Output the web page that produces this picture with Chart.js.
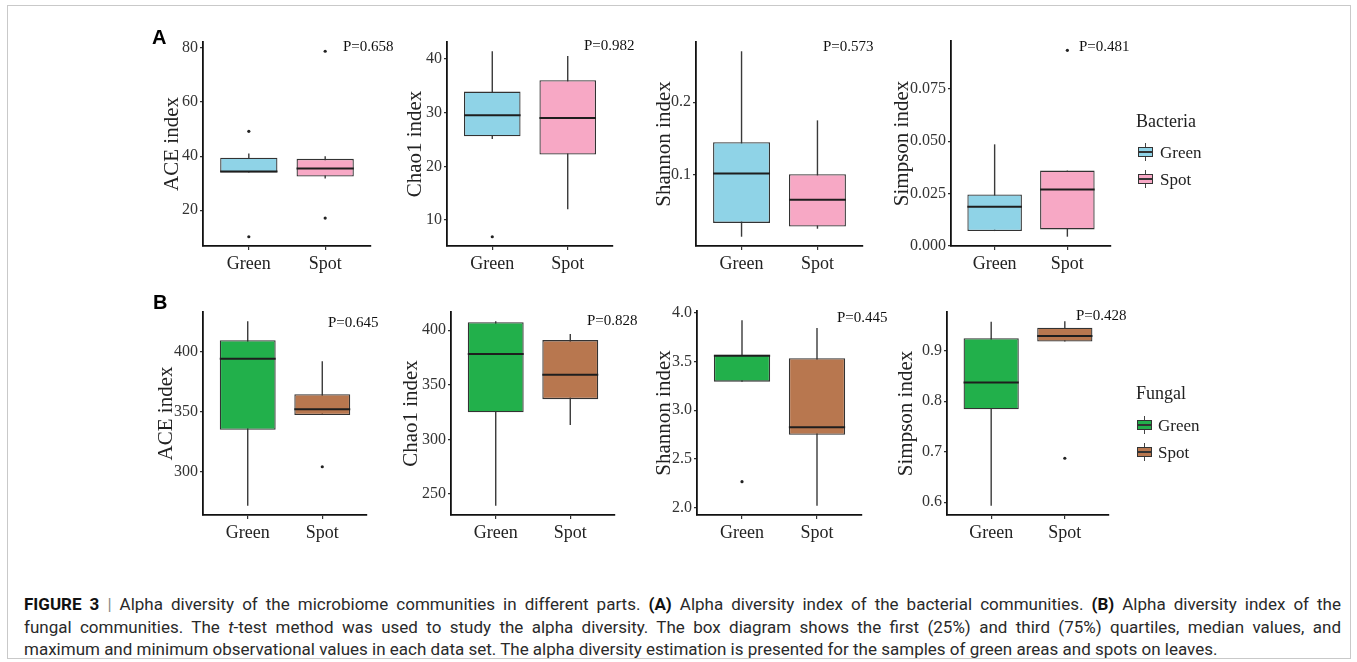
<!DOCTYPE html>
<html>
<head>
<meta charset="utf-8">
<script src="https://cdn.jsdelivr.net/npm/chart.js@4.4.1/dist/chart.umd.min.js"></script>
<style>
  html, body { margin: 0; padding: 0; background: #fff; }
  #figure { position: relative; width: 1357px; height: 662px; overflow: hidden; font-family: "Liberation Serif", "Times New Roman", serif; color: #222; }
  .frame { position: absolute; left: 7px; top: 5px; width: 1344px; height: 654px; border: 1px solid #c9c9c9; box-sizing: border-box; }
  .panel { position: absolute; }
  .letter { position: absolute; font-family: "Liberation Sans", Arial, sans-serif; font-weight: bold; font-size: 20px; line-height: 1; transform: translateY(-50%); color: #000; }
  .pval { position: absolute; font-size: 15px; line-height: 1; white-space: nowrap; transform: translateY(-50%); color: #111; }
  .leg-title { position: absolute; font-size: 18px; line-height: 1; transform: translateY(-50%); color: #222; }
  .leg-label { position: absolute; font-size: 17px; line-height: 1; transform: translateY(-50%); color: #222; }
  .key { position: absolute; width: 15px; height: 18px; transform: translateY(-50%); }
  .key .wh { position: absolute; left: 7px; top: 0; width: 1px; height: 18px; background: #444; }
  .key .bx { position: absolute; left: 0; top: 4px; width: 15px; height: 10px; border: 1px solid #333; box-sizing: border-box; }
  .key .md { position: absolute; left: 0; top: 8px; width: 15px; height: 1.5px; background: #333; }
  .caption { position: absolute; left: 24px; width: 1317px; font-family: Roboto, "Liberation Sans", sans-serif; font-size: 17px; line-height: 1; color: #2a2a2a; text-align: justify; text-align-last: justify; transform: translateY(-50%); }
  .caption.last { text-align-last: left; }
  .caption b { font-weight: bold; color: #111; }
  .caption .bar { color: #888; }
</style>
</head>
<body>
<div id="figure">
  <div class="frame"></div>
</div>
<script>
const groups = ["Green", "Spot"];

// each group: [min, q1, median, q3, max]; Green first, Spot second
const bacAce = [[34.0, 34.0, 34.3, 39.4, 41.0], [31.7, 32.5, 35.4, 39.0, 40.0]];
const bacAceOut = [[49.2, 10.2], [78.8, 17.1]];
const bacAceTicks = ["20", "40", "60", "80"];

const bacChao = [[25.1, 25.6, 29.5, 33.9, 41.4], [12.0, 22.2, 29.0, 36.0, 40.5]];
const bacChaoOut = [[6.9], []];
const bacChaoTicks = ["10", "20", "30", "40"];

const bacShannon = [[0.015, 0.034, 0.102, 0.145, 0.270], [0.026, 0.029, 0.066, 0.101, 0.175]];
const bacShannonOut = [[], []];
const bacShannonTicks = ["0.1", "0.2"];

const bacSimpson = [[0.0069, 0.0069, 0.0186, 0.0244, 0.0485], [0.0042, 0.0077, 0.0268, 0.0359, 0.0359]];
const bacSimpsonOut = [[], [0.0936]];
const bacSimpsonTicks = ["0.000", "0.025", "0.050", "0.075"];

const funAce = [[272.1, 335.1, 393.9, 409.1, 424.9], [347.3, 347.3, 352.0, 364.4, 391.7]];
const funAceOut = [[], [304.4]];
const funAceTicks = ["300", "350", "400"];

const funChao = [[239.2, 324.8, 378.3, 407.4, 408.3], [313.2, 336.9, 359.2, 391.0, 396.6]];
const funChaoOut = [[], []];
const funChaoTicks = ["250", "300", "350", "400"];

const funShannon = [[3.293, 3.293, 3.560, 3.569, 3.924], [2.018, 2.748, 2.824, 3.534, 3.845]];
const funShannonOut = [[2.265], []];
const funShannonTicks = ["2.0", "2.5", "3.0", "3.5", "4.0"];

const funSimpson = [[0.593, 0.784, 0.837, 0.9245, 0.957], [0.918, 0.918, 0.929, 0.945, 0.958]];
const funSimpsonOut = [[], [0.687]];
const funSimpsonTicks = ["0.6", "0.7", "0.8", "0.9"];

const pLabels = ["P=0.658", "P=0.982", "P=0.573", "P=0.481", "P=0.645", "P=0.828", "P=0.445", "P=0.428"];

const bacColors = ["#8fd3e7", "#f7a8c5"];
const funColors = ["#22b04b", "#b8774f"];

const PAD_TOP = 20;
const PAD_RIGHT = 10;
const X_H = 45;
const serif = "'Liberation Serif', 'Times New Roman', serif";

// plot frames [left, top, right, bottom] and gap from axis line to y title
const panels = [
  { title: "ACE index", stats: bacAce, out: bacAceOut, ticks: bacAceTicks, colors: bacColors, box: [203, 42, 371, 246], gap: 30, p: [343, 46] },
  { title: "Chao1 index", stats: bacChao, out: bacChaoOut, ticks: bacChaoTicks, colors: bacColors, box: [447, 42, 613, 246], gap: 31, p: [584, 45] },
  { title: "Shannon index", stats: bacShannon, out: bacShannonOut, ticks: bacShannonTicks, colors: bacColors, box: [696, 42, 863, 246], gap: 31, p: [823, 46] },
  { title: "Simpson index", stats: bacSimpson, out: bacSimpsonOut, ticks: bacSimpsonTicks, colors: bacColors, box: [951, 41, 1111, 246], gap: 48, p: [1079, 46] },
  { title: "ACE index", stats: funAce, out: funAceOut, ticks: funAceTicks, colors: funColors, box: [203, 312, 367, 515], gap: 36, p: [328, 322] },
  { title: "Chao1 index", stats: funChao, out: funChaoOut, ticks: funChaoTicks, colors: funColors, box: [451, 312, 615, 515], gap: 39, p: [587, 320] },
  { title: "Shannon index", stats: funShannon, out: funShannonOut, ticks: funShannonTicks, colors: funColors, box: [697, 311, 862, 515], gap: 32, p: [837, 317] },
  { title: "Simpson index", stats: funSimpson, out: funSimpsonOut, ticks: funSimpsonTicks, colors: funColors, box: [947, 312, 1109, 515], gap: 40, p: [1076, 315] },
];

// whiskers go behind the boxes, medians on top
const boxParts = {
  id: "boxParts",
  beforeDatasetsDraw(chart) {
    const stats = chart.data.datasets[0].stats;
    const y = chart.scales.y;
    const ctx = chart.ctx;
    ctx.save();
    ctx.strokeStyle = "#3a3a3a";
    ctx.lineWidth = 1.4;
    chart.getDatasetMeta(0).data.forEach((bar, i) => {
      const s = stats[i];
      ctx.beginPath();
      ctx.moveTo(bar.x, y.getPixelForValue(s[0]));
      ctx.lineTo(bar.x, y.getPixelForValue(s[4]));
      ctx.stroke();
    });
    ctx.restore();
  },
  afterDatasetsDraw(chart) {
    const stats = chart.data.datasets[0].stats;
    const y = chart.scales.y;
    const ctx = chart.ctx;
    ctx.save();
    ctx.strokeStyle = "#1e1e1e";
    ctx.lineWidth = 2;
    chart.getDatasetMeta(0).data.forEach((bar, i) => {
      const py = y.getPixelForValue(stats[i][2]);
      ctx.beginPath();
      ctx.moveTo(bar.x - bar.width / 2, py);
      ctx.lineTo(bar.x + bar.width / 2, py);
      ctx.stroke();
    });
    ctx.restore();
  },
};

const axisGrid = { display: true, offset: false, drawOnChartArea: false, drawTicks: true, tickLength: 4, color: "#333", lineWidth: 1.2 };
const axisBorder = { display: true, color: "#111", width: 1.8 };

function makePanel(p) {
  const [l, t, r, b] = p.box;
  const yw = Math.round(p.gap + 12.6);
  const wrap = document.createElement("div");
  wrap.className = "panel";
  wrap.style.left = l - yw + "px";
  wrap.style.top = t - PAD_TOP + "px";
  wrap.style.width = r - l + yw + PAD_RIGHT + "px";
  wrap.style.height = b - t + PAD_TOP + X_H + "px";
  const canvas = document.createElement("canvas");
  wrap.appendChild(canvas);
  document.getElementById("figure").appendChild(wrap);

  const all = p.stats.flat().concat(p.out.flat());
  const lo = Math.min(...all);
  const hi = Math.max(...all);
  const expand = (hi - lo) * 0.05;
  const tickVals = p.ticks.map(Number);

  new Chart(canvas, {
    type: "bar",
    data: {
      datasets: [
        {
          type: "bar",
          data: p.stats.map((s, i) => ({ x: i + 1, y: [s[1], s[3]] })),
          stats: p.stats,
          backgroundColor: p.colors,
          borderColor: "#333",
          borderWidth: 1.3,
          borderSkipped: false,
          categoryPercentage: 1,
          barPercentage: 0.75,
        },
        {
          type: "scatter",
          data: p.out.flatMap((vals, i) => vals.map((v) => ({ x: i + 1, y: v }))),
          pointRadius: 1.6,
          pointBackgroundColor: "#222",
          pointBorderWidth: 0,
        },
      ],
    },
    options: {
      responsive: true,
      maintainAspectRatio: false,
      animation: false,
      events: [],
      layout: { padding: { top: PAD_TOP, right: PAD_RIGHT, left: 0, bottom: 0 } },
      plugins: { legend: { display: false }, tooltip: { enabled: false } },
      scales: {
        x: {
          type: "linear",
          offset: false,
          bounds: "data",
          min: 0.4,
          max: 2.6,
          afterBuildTicks: (ax) => { ax.ticks = groups.map((g, i) => ({ value: i + 1 })); },
          afterFit: (ax) => { ax.height = X_H; },
          ticks: { callback: (v) => groups[Math.round(v) - 1], font: { family: serif, size: 18 }, color: "#222", padding: 3, maxRotation: 0, autoSkip: false },
          grid: axisGrid,
          border: axisBorder,
        },
        y: {
          type: "linear",
          offset: false,
          bounds: "data",
          min: lo - expand,
          max: hi + expand,
          afterBuildTicks: (ax) => { ax.ticks = tickVals.map((v) => ({ value: v })); },
          afterFit: (ax) => { ax.width = yw; },
          ticks: { callback: (v, i) => p.ticks[i], font: { family: serif, size: 16 }, color: "#333", padding: 2, autoSkip: false },
          title: { display: true, text: p.title, font: { family: serif, size: 21 }, color: "#222", padding: 0 },
          grid: { ...axisGrid, tickLength: 3 },
          border: axisBorder,
        },
      },
    },
    plugins: [boxParts],
  });
}

function addText(cls, text, x, y) {
  const el = document.createElement("div");
  el.className = cls;
  el.textContent = text;
  el.style.left = x + "px";
  el.style.top = y + "px";
  document.getElementById("figure").appendChild(el);
  return el;
}

function addKey(color, x, y) {
  const el = document.createElement("div");
  el.className = "key";
  el.style.left = x + "px";
  el.style.top = y + "px";
  el.innerHTML = `<i class="wh"></i><i class="bx" style="background:${color}"></i><i class="md"></i>`;
  document.getElementById("figure").appendChild(el);
}

panels.forEach((p, i) => {
  makePanel(p);
  addText("pval", pLabels[i], p.p[0], p.p[1]);
});

addText("letter", "A", 152, 37);
addText("letter", "B", 153, 302);

addText("leg-title", "Bacteria", 1136, 121);
addKey(bacColors[0], 1138, 152);
addText("leg-label", groups[0], 1160, 152);
addKey(bacColors[1], 1138, 179);
addText("leg-label", groups[1], 1160, 179);

addText("leg-title", "Fungal", 1136, 393);
addKey(funColors[0], 1137, 425);
addText("leg-label", groups[0], 1158, 425);
addKey(funColors[1], 1137, 452);
addText("leg-label", groups[1], 1158, 452);

const captionLines = [
  '<b>FIGURE 3</b> <span class="bar">|</span> Alpha diversity of the microbiome communities in different parts. <b>(A)</b> Alpha diversity index of the bacterial communities. <b>(B)</b> Alpha diversity index of the',
  'fungal communities. The <i>t</i>-test method was used to study the alpha diversity. The box diagram shows the first (25%) and third (75%) quartiles, median values, and',
  'maximum and minimum observational values in each data set. The alpha diversity estimation is presented for the samples of green areas and spots on leaves.',
];
[604, 627, 649].forEach((y, i) => {
  const el = document.createElement("div");
  el.className = "caption" + (i === 2 ? " last" : "");
  el.innerHTML = captionLines[i];
  el.style.top = y + "px";
  document.getElementById("figure").appendChild(el);
});
</script>
</body>
</html>
